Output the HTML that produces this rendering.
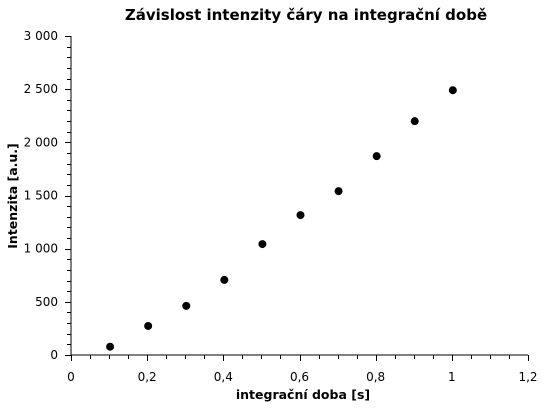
<!DOCTYPE html>
<html><head><meta charset="utf-8"><style>
body{margin:0;background:#fff;}
svg text{font-family:"DejaVu Sans",sans-serif;fill:#000;}
</style></head><body>
<svg id="chart" width="543" height="413" xmlns="http://www.w3.org/2000/svg">
<text x="306" y="20" text-anchor="middle" font-size="15" font-weight="bold">Závislost intenzity čáry na integrační době</text>
<text x="303" y="399" text-anchor="middle" font-size="12.5" font-weight="bold">integrační doba [s]</text>
<text transform="translate(17,196) rotate(-90)" text-anchor="middle" font-size="12.5" font-weight="bold">Intenzita [a.u.]</text>
<g id="axes"></g><g id="points"></g>
</svg>
<script>
const xValues=[0.1,0.2,0.3,0.4,0.5,0.6,0.7,0.8,0.9,1.0];
const yValues=[78,273,462,706,1043,1316,1541,1870,2199,2490];
const xTicks=[0,0.2,0.4,0.6,0.8,1,1.2];
const xTickLabels=["0","0,2","0,4","0,6","0,8","1","1,2"];
const yTicks=[0,500,1000,1500,2000,2500,3000];
const yTickLabels=["0","500","1 000","1 500","2 000","2 500","3 000"];
const X0=71,X1=528,Y0=355,Y1=36;
const sx=v=>X0+(v/1.2)*(X1-X0);
const sy=v=>Y0-(v/3000)*(Y0-Y1);
const NS="http://www.w3.org/2000/svg";
const ax=document.getElementById('axes'),pts=document.getElementById('points');
function mk(tag,attrs,parent){const e=document.createElementNS(NS,tag);for(const k in attrs)e.setAttribute(k,attrs[k]);parent.appendChild(e);return e;}
let l=mk('line',{x1:X0,y1:Y1,x2:X0,y2:Y0,stroke:'#000','stroke-width':1},ax);


l=mk('line',{x1:X0,y1:Y0,x2:X1,y2:Y0,stroke:'#000','stroke-width':1},ax);


for(let v=0;v<=1.2001;v+=0.05){const x=Math.round(sx(v))+0.5;const major=Math.abs(v/0.2-Math.round(v/0.2))<1e-6;
 const t=mk('line',{x1:x,y1:Y0,x2:x,y2:Y0+(major?6:4),stroke:'#000'},ax);
 
 }
for(let v=0;v<=3000;v+=100){const y=Math.round(sy(v))+0.5;const major=v%500===0;
 const t=mk('line',{x1:X0-(major?6:4),y1:y,x2:X0,y2:y,stroke:'#000'},ax);
 
 }
xTicks.forEach((v,i)=>{const t=mk('text',{x:sx(v),y:Y0+26,'text-anchor':'middle','font-size':12},ax);t.textContent=xTickLabels[i];
 
 });
yTicks.forEach((v,i)=>{const t=mk('text',{x:X0-13,y:sy(v)+4,'text-anchor':'end','font-size':12},ax);t.textContent=yTickLabels[i];
 
 });
xValues.forEach((v,i)=>{const c=mk('circle',{cx:sx(v)+1,cy:sy(yValues[i]),r:4,fill:'#000'},pts);
 
 });
</script>
</body></html>
